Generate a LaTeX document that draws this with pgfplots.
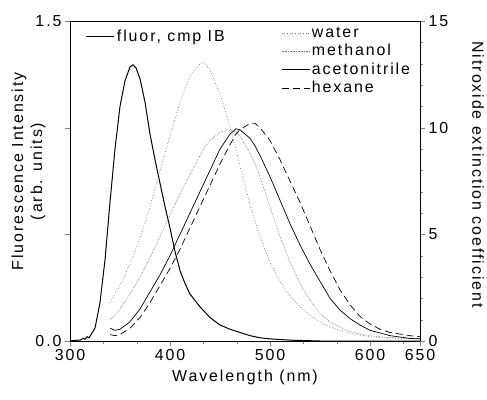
\documentclass[border=0pt]{standalone}
\usepackage{pgfplots}
\pgfplotsset{compat=1.18}
\usepackage{fontspec}
\setmainfont{Liberation Sans}[LetterSpace=12]

% fluorescence of cmp IB (left axis)
\pgfplotstableread{
x y
300 0.0
305 0.003
310 0.004
313 0.012
315 0.008
317 0.02
319 0.015
321 0.03
325 0.06
330 0.18
335 0.38
340 0.65
345 0.90
350 1.10
355 1.22
360 1.285
363 1.295
366 1.28
370 1.23
375 1.12
380 0.97
385 0.85
390 0.74
395 0.63
400 0.53
405 0.42
410 0.33
415 0.27
420 0.22
430 0.16
440 0.11
450 0.075
460 0.055
470 0.04
480 0.025
490 0.015
500 0.01
520 0.004
550 0.0
650 0.0
}\fluor

% nitroxide extinction (right axis)
\pgfplotstableread{
x water methanol aceto hexane
340 1.8 1.0 0.6 0.3
345 2.2 1.2 0.5 0.25
350 2.6 1.5 0.55 0.3
360 3.6 2.2 0.9 0.6
370 4.8 3.0 1.5 1.1
380 6.3 3.9 2.3 1.8
390 8.0 4.9 3.1 2.6
400 9.6 5.9 4.0 3.4
410 11.2 6.9 5.0 4.3
420 12.4 7.8 6.0 5.3
430 13.0 8.7 7.0 6.3
435 13.05 9.1 7.5 6.8
440 12.7 9.4 8.0 7.3
450 11.6 9.8 9.0 8.3
460 10.0 9.9 9.7 9.2
466 9.0 9.8 9.95 9.7
470 8.2 9.6 9.9 9.9
480 6.4 8.8 9.5 10.2
485 5.6 8.3 9.15 10.2
490 4.9 7.7 8.7 10.0
500 3.7 6.3 7.7 9.4
510 2.8 4.9 6.6 8.5
520 2.1 3.7 5.5 7.5
530 1.6 2.7 4.5 6.5
540 1.2 1.9 3.6 5.4
550 0.9 1.3 2.8 4.3
560 0.65 0.9 2.0 3.3
570 0.5 0.65 1.45 2.4
580 0.35 0.45 1.05 1.7
590 0.28 0.33 0.75 1.15
600 0.2 0.25 0.5 0.8
610 0.16 0.2 0.38 0.55
620 0.13 0.16 0.25 0.4
640 0.1 0.12 0.12 0.25
650 0.1 0.1 0.1 0.2
}\absn

\begin{document}
\begin{tikzpicture}
\pgfplotsset{
  every axis/.append style={
    scale only axis, width=350bp, height=320bp,
    xmin=300, xmax=650,
    font=\fontsize{16}{19}\selectfont,
    tick label style={font=\fontsize{16}{19}\selectfont},
    /pgf/number format/assume math mode=true,
    tick align=outside,
    major tick length=5bp, minor tick length=3bp,
    axis line style={line width=0.8pt},
    legend cell align=left,
    legend image code/.code={\draw[#1] (0bp,0bp) -- (28bp,0bp);},
  },
}
\begin{axis}[
  name=ax,
  ymin=0, ymax=1.5,
  xtick={300,400,500,600,650},
  minor xtick={333.3,366.7,433.3,466.7,533.3,566.7,633.3},
  ytick={0,0.5,1,1.5},
  yticklabels={0.0,,,1.5},
  xtick pos=bottom, ytick pos=left,
  xlabel={Wavelength (nm)},
  xlabel style={yshift=-2bp},
  ylabel={Fluorescence Intensity\\(arb. units)},
  ylabel style={at={(axis description cs:-0.06,0.53)}, anchor=south, align=center},
  legend style={at={(axis description cs:0.045,0.953)}, anchor=west,
    draw=none, fill=none, inner sep=0pt, column sep=1bp,
    nodes={inner sep=1bp}},
]
\addplot[black, line width=1.0pt] table[x=x,y=y] {\fluor};
\addlegendentry{fluor, cmp IB}
\end{axis}
\begin{axis}[
  ymin=0, ymax=15,
  axis x line=none,
  axis y line*=right,
  ytick={0,5,10,15},
  minor y tick num=4,
  ylabel={Nitroxide extinction coefficient},
  ylabel style={at={(axis description cs:1.166,0.52)}, anchor=center, rotate=180},
  legend style={at={(axis description cs:0.603,0.985)}, anchor=north west,
    draw=none, fill=none, inner sep=0pt, column sep=1bp, row sep=3.5bp,
    nodes={inner sep=1bp}},
]
\addplot[black!55, line width=0.7pt, dotted] table[x=x,y=water] {\absn};
\addlegendentry{water}
\addplot[black!55, line width=0.6pt, densely dotted] table[x=x,y=methanol] {\absn};
\addlegendentry{methanol}
\addplot[black, line width=0.7pt] table[x=x,y=aceto] {\absn};
\addlegendentry{acetonitrile}
\addplot[black, line width=0.7pt, dash pattern=on 7bp off 4bp] table[x=x,y=hexane] {\absn};
\addlegendentry{hexane}
\end{axis}
\pgfresetboundingbox
\path[use as bounding box] ([xshift=-70bp,yshift=-59bp]ax.south west) rectangle ([xshift=67bp,yshift=21bp]ax.north east);
\end{tikzpicture}
\end{document}
